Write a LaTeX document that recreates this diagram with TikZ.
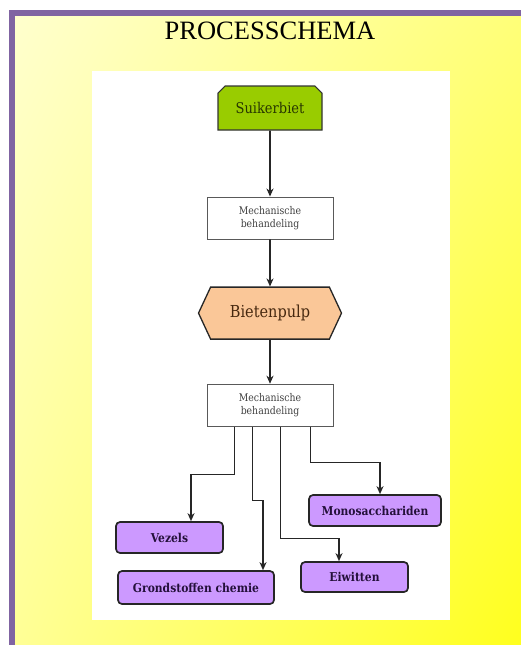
\documentclass[tikz,border=0pt]{standalone}
\usepackage{fontspec}
\setmainfont{Liberation Serif}
\newfontfamily\schemafont[FakeStretch=0.88]{DejaVu Serif}
\usepackage{tikz}
\usetikzlibrary{positioning,arrows.meta,shapes.misc,shapes.symbols,shadings}
\definecolor{framepurple}{HTML}{8064A2}
\definecolor{beetgreen}{HTML}{99CC00}
\definecolor{pulppeach}{HTML}{FAC798}
\definecolor{boxpurple}{HTML}{CC99FF}
\definecolor{darkpurple}{HTML}{24103A}
\definecolor{beettext}{HTML}{283700}
\definecolor{pulptext}{HTML}{46280F}
\definecolor{paleyellow}{HTML}{FFFFCD}
\definecolor{lightyellow}{HTML}{FFFF78}
\definecolor{midyellow}{HTML}{FFFF96}
\definecolor{deepyellow}{HTML}{FFFF1E}

\begin{document}
\begin{tikzpicture}[
  x=1pt, y=-1pt,
  node distance=44pt,
  stepbox/.style={draw=black!65, line width=0.9pt, fill=white, align=center, font=\schemafont\fontsize{10.6}{12.5}\selectfont, text=black!75, minimum width=126pt, minimum height=42pt, inner sep=2pt},
  product/.style={draw=black!85, line width=1.7pt, rounded corners=4pt, fill=boxpurple, font=\schemafont\bfseries\fontsize{12.2}{14}\selectfont, text=darkpurple, minimum height=31pt, inner sep=2pt},
  arr/.style={-{Stealth[length=8pt,width=7pt,inset=2.5pt]}, line width=1.6pt, black!85}
]
\useasboundingbox (0,0) rectangle (521,645);
% background and frame
\fill[white] (0,0) rectangle (521,645);
\shade[upper left=paleyellow, upper right=lightyellow, lower left=midyellow, lower right=deepyellow]
  (15,16) rectangle (521,645);
\draw[framepurple, line width=6pt] (12,645) -- (12,13) -- (521,13);
\node[font=\fontsize{26.5}{30}\selectfont] (title) at (270,31) {PROCESSCHEMA};
\node[fill=white, minimum width=358pt, minimum height=549pt, inner sep=0pt] (panel) at (271,345.5) {};

% main column
\node[chamfered rectangle, chamfered rectangle corners={north west,north east}, chamfered rectangle angle=45, chamfered rectangle xsep=4pt,
  draw=black!80, line width=1.1pt, fill=beetgreen, minimum width=104pt, minimum height=44pt, inner sep=2pt,
  font=\schemafont\fontsize{14.8}{17}\selectfont, text=beettext] (sugar) at (270,108) {Suikerbiet};
\node[stepbox, below=66pt of sugar] (mech1) {Mechanische\\behandeling};
\node[signal, signal to=west and east, signal pointer angle=130, draw=black!85, line width=1.3pt, fill=pulppeach,
  minimum width=143pt, minimum height=52pt, inner sep=2pt, font=\schemafont\fontsize{16.5}{19}\selectfont,
  text=pulptext, below=47pt of mech1] (pulp) {Bietenpulp};
\node[stepbox, below=of pulp] (mech2) {Mechanische\\behandeling};

% products
\node[product, minimum width=107pt] (vezels) at (169.5,537.5) {Vezels};
\node[product, minimum width=156pt, minimum height=33pt] (grond) at (196,587.5) {Grondstoffen chemie};
\node[product, minimum width=107pt, minimum height=30pt] (eiwit) at (354.5,577) {Eiwitten};
\node[product, minimum width=132pt] (mono) at (375,510.5) {Monosacchariden};

\draw[arr] (sugar) -- (mech1);
\draw[arr] (mech1) -- (pulp);
\draw[arr] (pulp) -- (mech2);
\draw[arr] ([xshift=-35.5pt]mech2.south) -- ++(0,48) -| ([xshift=21.5pt]vezels.north);
\draw[arr] ([xshift=-17.5pt]mech2.south) -- ++(0,74) -| ([xshift=67pt]grond.north);
\draw[arr] ([xshift=10.5pt]mech2.south) -- ++(0,112) -| ([xshift=-15.5pt]eiwit.north);
\draw[arr] ([xshift=40.5pt]mech2.south) -- ++(0,36) -| ([xshift=5pt]mono.north);
\end{tikzpicture}
\end{document}
